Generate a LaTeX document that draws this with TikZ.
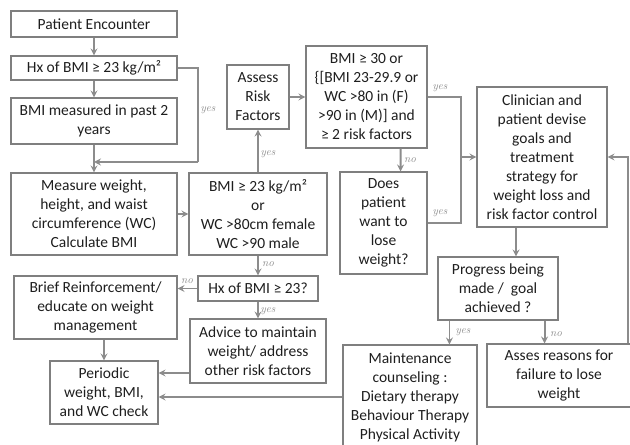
\documentclass[tikz,border=0pt]{standalone}
\usepackage{fontspec}
\setmainfont{Carlito}
\newfontfamily\notefont{Latin Modern Roman}
\usetikzlibrary{arrows.meta, positioning}
\definecolor{framegray}{HTML}{7F7F7F}
\definecolor{flowgray}{HTML}{8C8C8C}
\definecolor{inkdark}{HTML}{1E1E1E}

\begin{document}
\begin{tikzpicture}[
    x=1bp, y=-1bp,
    box/.style={rectangle, draw=framegray, line width=1.1bp, align=center, inner sep=0pt,
        text=inkdark, font=\fontsize{15.5bp}{19bp}\selectfont},
    arrow/.style={-{Stealth[length=7bp, width=7bp, inset=2.5bp]}, line width=1.9bp, flowgray},
    link/.style={line width=1.9bp, flowgray},
    note/.style={font=\notefont\itshape\fontsize{11bp}{12bp}\selectfont, text=flowgray, inner sep=1pt}
]
\useasboundingbox (0,0) rectangle (630,445);

% left column
\node[box, minimum width=166bp, minimum height=26bp] (encounter) at (94,24) {Patient Encounter};
\node[box, minimum width=166bp, minimum height=24bp] (history) at (94,68) {Hx of BMI ≥ 23 kg/m²};
\node[box, minimum width=166bp, minimum height=46bp] (recent) at (94,121) {BMI measured in past 2\\years};
\node[box, minimum width=166bp, minimum height=82bp] (measure) at (94,214) {Measure weight,\\height, and waist\\circumference (WC)\\Calculate BMI};
\node[box, minimum width=163bp, minimum height=63bp] (brief) at (95.5,307.5) {Brief Reinforcement/\\educate on weight\\management};
\node[box, minimum width=108bp, minimum height=63bp] (periodic) at (104,392.5) {Periodic\\weight, BMI,\\and WC check};

% middle column
\node[box, minimum width=138bp, minimum height=82bp] (screen) at (258,214) {BMI ≥ 23 kg/m²\\or\\WC >80cm female\\WC >90 male};
\node[box, minimum width=62bp, minimum height=64bp] (assess) at (258,97) {Assess\\Risk\\Factors};
\node[box, minimum width=120bp, minimum height=25bp] (hxcheck) at (258,288.5) {Hx of BMI ≥ 23?};
\node[box, minimum width=136bp, minimum height=64bp] (advice) at (258,351) {Advice to maintain\\weight/ address\\other risk factors};

% right part
\node[box, minimum width=121bp, minimum height=102bp] (criteria) at (366.5,97) {BMI ≥ 30 or\\\{[BMI 23-29.9 or\\WC >80 in (F)\\>90 in (M)] and\\≥ 2 risk factors};
\node[box, minimum width=87bp, minimum height=102bp] (willing) at (383.5,223) {Does\\patient\\want to\\lose\\weight?};
\node[box, minimum width=130bp, minimum height=140bp] (plan) at (542,157) {Clinician and\\patient devise\\goals and\\treatment\\strategy for\\weight loss and\\risk factor control};
\node[box, minimum width=120bp, minimum height=63bp] (progress) at (498,288.5) {Progress being\\made /\ \ goal\\achieved ?};
\node[box, minimum width=134bp, minimum height=104bp] (maint) at (410,397) {Maintenance\\counseling :\\Dietary therapy\\Behaviour Therapy\\Physical Activity};
\node[box, minimum width=144bp, minimum height=63bp] (reasons) at (559,375.5) {Asses reasons for\\failure to lose\\weight};

\coordinate (merge) at (94,162);
\coordinate (join) at (461,157);

\draw[arrow] (encounter) -- (history);
\draw[arrow] (history) -- (recent);
\draw[arrow] (recent) -- (measure);
\draw[link] (history.east) -| (198,162);
\draw[arrow] (198,162) -- (merge);
\draw[arrow] (measure) -- (screen);
\draw[arrow] (screen) -- (assess);
\draw[arrow] (assess) -- (criteria);
\draw[link] (criteria.east) -| (join);
\draw[link] (willing.east) -| (join);
\draw[arrow] (join) -- (plan.west);
\draw[arrow] ([xshift=-27bp]criteria.south east) -- ([xshift=-27bp]willing.north east);
\draw[arrow] (screen) -- (hxcheck);
\draw[arrow] (hxcheck.west) -- (hxcheck.west -| brief.east);
\draw[arrow] (hxcheck) -- (advice);
\draw[arrow] (periodic.north |- brief.south) -- (periodic.north);
\draw[arrow] ([yshift=-22bp]advice.west) -- ([yshift=-22bp]advice.west -| periodic.east);
\draw[arrow] (maint.west) -- (maint.west -| periodic.east);
\draw[arrow] ([xshift=18bp]progress.north |- plan.south) -- ([xshift=18bp]progress.north);
\draw[arrow] ([xshift=12bp]progress.south west) -- ([xshift=12bp]progress.south west |- maint.north);
\draw[arrow] ([xshift=-14bp]progress.south east) -- ([xshift=-14bp]progress.south east |- reasons.north);
\draw[arrow] ([xshift=-4bp]reasons.north east) |- (plan.east);

% branch labels
\node[note] (yesloop) at (208,110) {yes};
\node[note] (yesrisk) at (268,154) {yes};
\node[note] (yestop) at (440,88) {yes};
\node[note] (yeswant) at (440,213) {yes};
\node[note] (nocrit) at (410,160) {no};
\node[note] (noscreen) at (268,264) {no};
\node[note] (nohx) at (187,281) {no};
\node[note] (yeshx) at (268,311) {yes};
\node[note] (yesprog) at (463,332) {yes};
\node[note] (noprog) at (556,334) {no};
\end{tikzpicture}
\end{document}
